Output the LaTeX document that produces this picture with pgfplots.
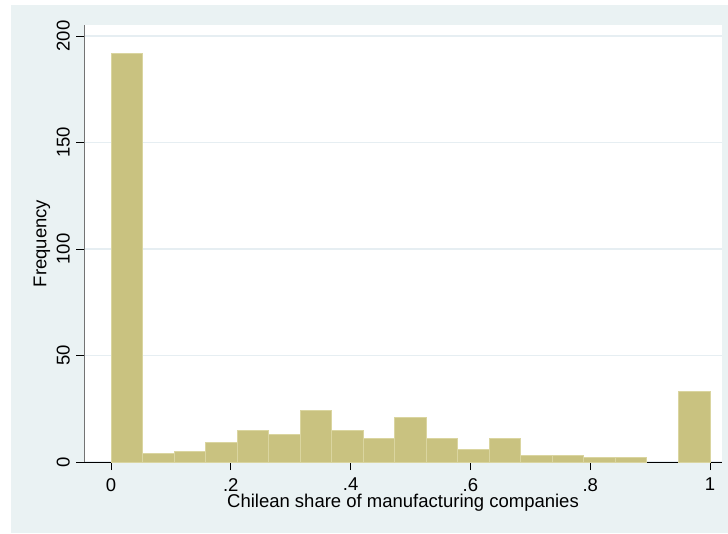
\documentclass[border=0pt]{standalone}
\usepackage{pgfplots}
\pgfplotsset{compat=1.18}
\usepackage{fontspec}
\setmainfont{Liberation Sans}
\definecolor{bgc}{RGB}{234,242,243}
\definecolor{barfill}{RGB}{201,194,128}
\definecolor{baredge}{RGB}{218,213,160}
\definecolor{gridc}{RGB}{230,238,242}
\begin{document}
\fontsize{18.5}{22}\selectfont
\begin{tikzpicture}
\path[use as bounding box] (0pt,0pt) rectangle (728pt,533pt);
\fill[bgc] (11pt,0pt) rectangle (728pt,528pt);
\begin{axis}[
  at={(84pt,71pt)}, anchor=south west,
  width=638pt, height=437pt, scale only axis,
  xmin=-0.0451, xmax=1.0200, ymin=0, ymax=205.2,
  axis x line*=bottom, axis y line*=left,
  x axis line style={black,-,line width=0.9pt},
  y axis line style={black!55,-,line width=0.9pt},
  axis background/.style={fill=white},
  xtick={0,0.2,0.4,0.6,0.8,1},
  xticklabels={0,.2,.4,.6,.8,1},
  ytick={0,50,100,150,200},
  ymajorgrids,
  grid style={gridc, line width=1.5pt},
  tick align=outside, major tick length=8pt,
  tick style={black, line width=0.8pt},
  /pgf/number format/assume math mode=true,
  ticklabel style={font=\fontsize{18.5}{22}\selectfont},
  yticklabel style={xshift=-6pt, rotate=90, anchor=south, inner sep=0pt},
  xticklabel style={anchor=north, inner sep=0pt, yshift=-8pt},
  xlabel={Chilean share of manufacturing companies},
  ylabel={Frequency},
  label style={font=\fontsize{18.5}{22}\selectfont},
  every axis x label/.style={at={(rel axis cs:0.5,0)}, yshift=-41pt, anchor=center},
  every axis y label/.style={at={(rel axis cs:0,0.5)}, xshift=-42pt, rotate=90, anchor=center},
]
\addplot[ybar interval, fill=barfill, draw=baredge, line width=1pt] coordinates {
(0.00000,192) (0.05263,4) (0.10526,5) (0.15789,9) (0.21053,15)
(0.26316,13) (0.31579,24) (0.36842,15) (0.42105,11) (0.47368,21)
(0.52632,11) (0.57895,6) (0.63158,11) (0.68421,3) (0.73684,3)
(0.78947,2) (0.84211,2) (0.89474,2)
};
\addplot[ybar interval, fill=barfill, draw=baredge, line width=1pt] coordinates {
(0.94737,33) (1.00000,33)
};
\end{axis}
\end{tikzpicture}
\end{document}
